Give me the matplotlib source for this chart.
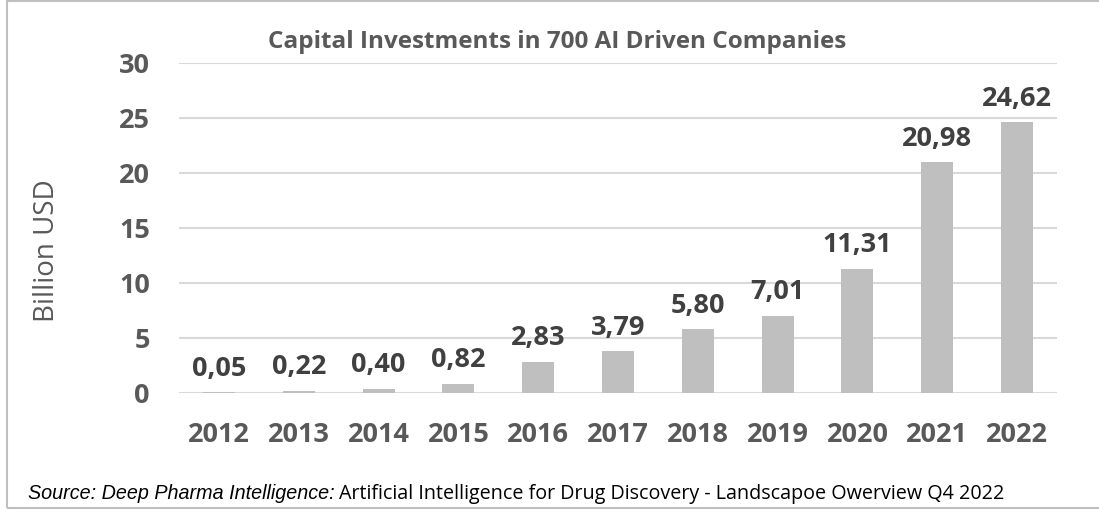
import matplotlib
matplotlib.use('Agg')
import matplotlib.pyplot as plt
from matplotlib.patches import Rectangle

years = ['2012', '2013', '2014', '2015', '2016', '2017', '2018', '2019', '2020', '2021', '2022']
invest = [0.05, 0.22, 0.40, 0.82, 2.83, 3.79, 5.80, 7.01, 11.31, 20.98, 24.62]
yticks = [0, 5, 10, 15, 20, 25, 30]

txt = '#595959'
lab = '#404040'
bar_c = '#BFBFBF'
grid_c = '#D9D9D9'

plt.rcParams['font.family'] = ['Open Sans', 'DejaVu Sans']

W, H = 1099, 509
fig = plt.figure(figsize=(W / 100, H / 100), dpi=100)
ax = fig.add_axes([179 / W, 1 - 393 / H, (1057 - 179) / W, (393 - 63) / H])

x = list(range(len(years)))
ax.bar(x, invest, width=0.4, color=bar_c, zorder=3)
for xi, v in zip(x, invest):
    ax.annotate(f'{v:.2f}'.replace('.', ','), (xi, v), xytext=(0, 12), textcoords='offset points',
                ha='center', va='baseline', fontsize=19.5, fontweight='bold', color=lab, zorder=4)

ax.set_xlim(-0.5, len(years) - 0.5)
ax.set_ylim(0, 30)
ax.set_yticks(yticks)
ax.set_xticks(x)
ax.set_xticklabels(years)
ax.yaxis.grid(True, color=grid_c, linewidth=1.5, zorder=0)
for s in ax.spines.values():
    s.set_visible(False)
ax.tick_params(axis='both', length=0, labelsize=19.5, labelcolor=txt)
ax.tick_params(axis='x', pad=21)
ax.tick_params(axis='y', pad=21)
for t in ax.get_xticklabels() + ax.get_yticklabels():
    t.set_fontweight('bold')

fig.text(557 / W, 1 - 48 / H, 'Capital Investments in 700 AI Driven Companies', ha='center', va='baseline',
         fontsize=17.5, fontweight='bold', color=txt)
fig.text(46.5 / W, 1 - 251 / H, 'Billion USD', rotation=90, ha='center', va='center',
         fontsize=20, color=txt)

# source line: italic part then normal part
src1 = fig.text(28 / W, 1 - 499 / H, 'Source: Deep Pharma Intelligence:', ha='left', va='baseline',
                fontsize=14.2, style='italic', family='Liberation Sans', color='black')
r = fig.canvas.get_renderer()
bb = src1.get_window_extent(renderer=r)
fig.text(bb.x1 / W + 4 / W, 1 - 499 / H,
         'Artificial Intelligence for Drug Discovery - Landscapoe Owerview Q4 2022',
         ha='left', va='baseline', fontsize=14.2, color='black')

fig.patches.append(Rectangle((7 / W, 1 - 508 / H), 1.1, (507 / H), transform=fig.transFigure,
                             fill=False, edgecolor='#BFBFBF', linewidth=1.5))

fig.savefig('out.png', dpi=100)
